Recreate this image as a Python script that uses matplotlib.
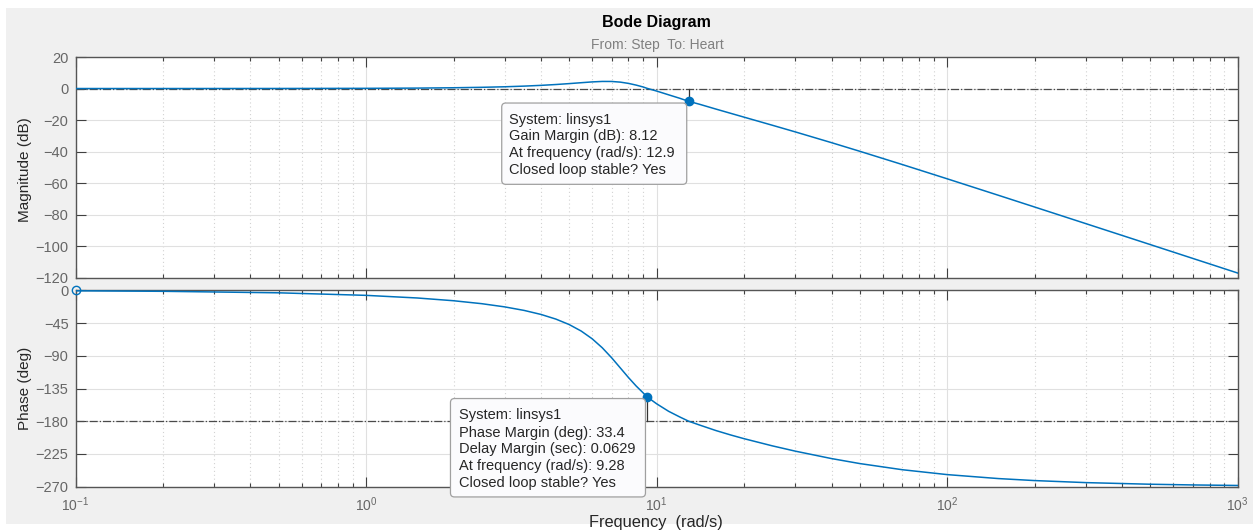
import matplotlib
matplotlib.use('Agg')
import matplotlib.pyplot as plt
import matplotlib.ticker as mticker
from matplotlib.patches import Rectangle, FancyBboxPatch
from matplotlib.transforms import ScaledTranslation

# ---------------- data ----------------
freq = [0.1, 0.2, 0.5, 1, 1.5, 2, 2.5, 3, 3.5, 4, 4.5, 5, 5.5, 6, 6.5, 7, 7.5,
        8, 8.5, 9, 9.28, 10, 11, 12, 12.9, 14, 16, 18, 20, 25, 30, 40, 50, 70,
        100, 150, 200, 300, 500, 700, 1000]
mag_db = [0.00, 0.00, 0.03, 0.12, 0.27, 0.49, 0.77, 1.11, 1.53, 2.01, 2.54,
          3.12, 3.69, 4.20, 4.50, 4.48, 4.06, 3.26, 2.18, 0.95, 0.10, -1.59,
          -3.99, -6.16, -8.12, -9.89, -13.03, -15.74, -18.16, -23.27, -27.50,
          -34.34, -39.79, -48.18, -57.26, -67.70, -75.16, -85.69, -98.98,
          -107.75, -117.04]
phase_deg = [-0.69, -1.38, -3.45, -6.95, -10.56, -14.34, -18.39, -22.79,
             -27.66, -33.18, -39.56, -47.06, -56.00, -66.63, -78.99, -92.68,
             -106.70, -119.89, -131.48, -141.23, -146.6, -155.99, -166.35,
             -174.03, -180.0, -184.98, -192.80, -198.92, -203.99, -213.81,
             -221.10, -231.34, -238.17, -246.63, -253.37, -258.82, -261.58,
             -264.38, -266.62, -267.58, -268.31]

gm_db = 8.12          # gain margin (dB)
gm_freq = 12.9        # rad/s
pm_deg = 33.4         # phase margin (deg)
pm_freq = 9.28        # rad/s
delay_margin = 0.0629
phase_start = 0.0

mag_ticks = [-120, -100, -80, -60, -40, -20, 0, 20]
phase_ticks = [-270, -225, -180, -135, -90, -45, 0]
freq_ticks = [0.1, 1, 10, 100, 1000]
freq_tick_labels = [r'$\mathregular{10^{-1}}$', r'$\mathregular{10^{0}}$',
                    r'$\mathregular{10^{1}}$', r'$\mathregular{10^{2}}$',
                    r'$\mathregular{10^{3}}$']

gm_tip = ['System: linsys1', 'Gain Margin (dB): %.2f' % gm_db,
          'At frequency (rad/s): %.1f' % gm_freq, 'Closed loop stable? Yes']
pm_tip = ['System: linsys1', 'Phase Margin (deg): %.1f' % pm_deg,
          'Delay Margin (sec): %.4f' % delay_margin,
          'At frequency (rad/s): %.2f' % pm_freq, 'Closed loop stable? Yes']

# ---------------- style ----------------
plt.rcParams['font.family'] = ['Liberation Sans', 'DejaVu Sans']
plt.rcParams['mathtext.fontset'] = 'custom'
plt.rcParams['mathtext.rm'] = 'Liberation Sans'
plt.rcParams['mathtext.it'] = 'Liberation Sans:italic'
plt.rcParams['mathtext.bf'] = 'Liberation Sans:bold'

LINE = '#0072BD'
TICKC = '#666666'
AXC = '#555555'

W, H = 1253, 531
fig = plt.figure(figsize=(W / 100, H / 100), dpi=100, facecolor='white')
fig.patches.append(Rectangle((6 / W, 7 / H), 1 - 6 / W, (524 - 8) / H,
                             transform=fig.transFigure, fc='#f0f0f0',
                             ec='none', zorder=-10))


def px_axes(l, t, r, b):
    return [l / W, 1 - b / H, (r - l) / W, (b - t) / H]


ax1 = fig.add_axes(px_axes(75.5, 57, 1237.7, 277.7))
ax2 = fig.add_axes(px_axes(75.5, 290.3, 1237.7, 486.7))

for ax in (ax1, ax2):
    ax.set_facecolor('white')
    ax.set_xscale('log')
    ax.set_xlim(0.1, 1000)
    ax.xaxis.set_major_locator(mticker.FixedLocator(freq_ticks))
    ax.xaxis.set_minor_locator(mticker.LogLocator(base=10, subs=range(2, 10), numticks=20))
    ax.xaxis.set_minor_formatter(mticker.NullFormatter())
    ax.tick_params(which='both', direction='in', top=True, right=True,
                   color='#404040', width=0.8)
    ax.tick_params(which='major', length=7, labelsize=10.5, labelcolor=TICKC, pad=5)
    ax.tick_params(which='minor', length=3.2)
    ax.grid(which='major', color='#e0e0e0', lw=0.8, ls='-')
    ax.grid(which='minor', axis='x', color='#d2d2d2', lw=0.8, ls=(0, (1, 2.5)))
    ax.set_axisbelow(True)
    for s in ax.spines.values():
        s.set_color(AXC)
        s.set_linewidth(1.0)

ax1.set_ylim(-120, 20)
ax1.set_yticks(mag_ticks)
ax1.tick_params(labelbottom=False)

ax2.set_ylim(-270, 0)
ax2.set_yticks(phase_ticks)
ax2.set_xticklabels(freq_tick_labels)
ax2.tick_params(axis='x', labelsize=10, pad=6)

# magnitude
ax1.axhline(0, color='#4a4a4a', ls='-.', lw=0.9, zorder=2)
ax1.plot(freq, mag_db, color=LINE, lw=1.1, zorder=3)
ax1.plot([gm_freq, gm_freq], [-gm_db, 0], color='#333333', lw=0.9, zorder=2)
ax1.plot([gm_freq], [-gm_db], 'o', ms=6, color=LINE, zorder=5)

# phase
ax2.axhline(-180, color='#4a4a4a', ls='-.', lw=0.9, zorder=2)
ax2.plot(freq, phase_deg, color=LINE, lw=1.1, zorder=3)
ax2.plot([pm_freq, pm_freq], [-180 + pm_deg, -180], color='#333333', lw=0.9, zorder=2)
ax2.plot([pm_freq], [-180 + pm_deg], 'o', ms=6, color=LINE, zorder=5)
ax2.plot([freq[0]], [phase_start], 'o', ms=6, mfc='none', mec=LINE, mew=1.0,
         zorder=5, clip_on=False)


def datatip(ax, x, y, lines, box, text_left, line_ys):
    trans = fig.dpi_scale_trans + ScaledTranslation(x, y, ax.transData)
    l, r, t, b = box
    patch = FancyBboxPatch((l / 100, -b / 100), (r - l) / 100, (b - t) / 100,
                           boxstyle='round,pad=0,rounding_size=0.04',
                           transform=trans, fc='#fbfbfd', ec='#a0a0a0',
                           lw=0.9, zorder=6, clip_on=False)
    ax.add_patch(patch)
    for line, yc in zip(lines, line_ys):
        ax.text(text_left / 100, -yc / 100, line, transform=trans, ha='left',
                va='center', fontsize=10.5, color='#262626', zorder=7,
                clip_on=False)


datatip(ax1, gm_freq, -gm_db, gm_tip, (-187, -2, 1.7, 83), -180,
        [18.3, 35, 51.7, 68.3])
datatip(ax2, pm_freq, -180 + pm_deg, pm_tip, (-196.7, -1.7, 1.6, 100), -188.4,
        [18.3, 35.6, 52.3, 69.3, 86])

# texts
fig.text(656 / W, 1 - 23 / H, 'Bode Diagram', ha='center', va='center',
         fontsize=11.5, fontweight='bold', color='black')
fig.text(657 / W, 1 - 45 / H, 'From: Step  To: Heart', ha='center',
         va='center', fontsize=10, color='#808080')
fig.text(25 / W, 1 - 169.5 / H, 'Magnitude (dB)', rotation=90, ha='center',
         va='center', fontsize=11, color='#262626')
fig.text(25 / W, 1 - 388 / H, 'Phase (deg)', rotation=90, ha='center',
         va='center', fontsize=11, color='#262626')
fig.text(656 / W, 1 - 522 / H, 'Frequency  (rad/s)', ha='center',
         va='center', fontsize=11.8, color='#262626')

fig.savefig('out.png', dpi=100, facecolor=fig.get_facecolor())
